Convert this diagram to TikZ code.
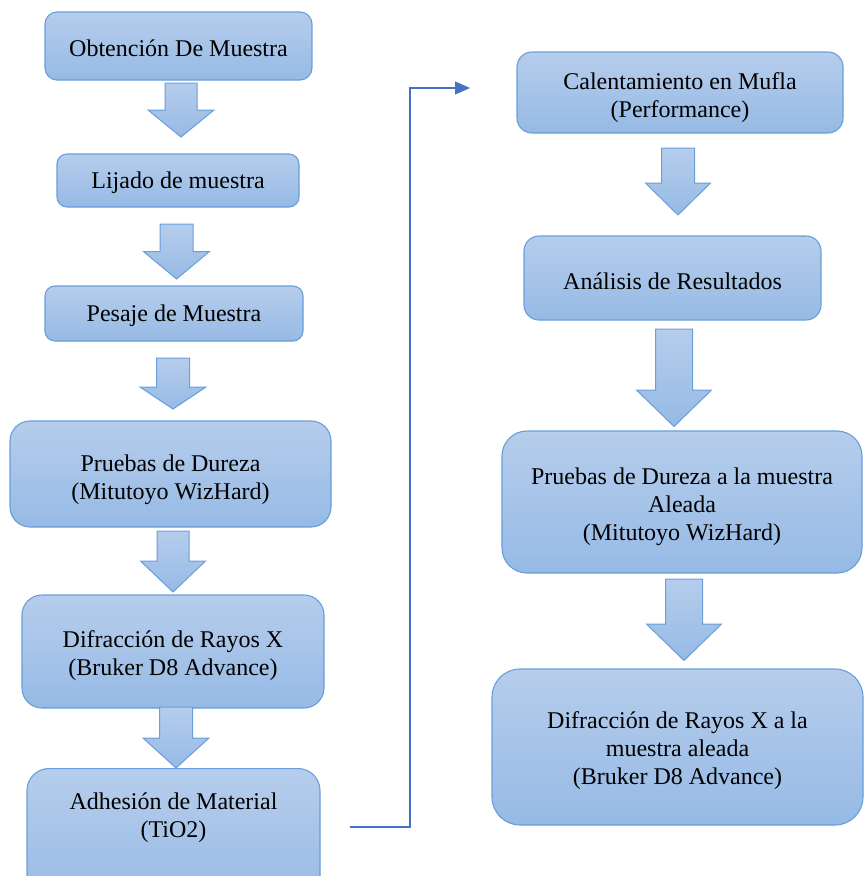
\documentclass[tikz,border=0pt]{standalone}
\usepackage{fontspec}
\setmainfont{Liberation Serif}
\usetikzlibrary{arrows.meta}
\definecolor{fillTop}{RGB}{182,205,236}
\definecolor{fillBot}{RGB}{150,186,229}
\definecolor{edgeBlue}{RGB}{104,158,218}
\definecolor{connBlue}{RGB}{68,114,196}
\tikzset{
  stepbox/.style={draw=edgeBlue, line width=1.1pt, top color=fillTop, bottom color=fillBot,
    inner sep=0pt},
  blockarrow/.style={draw=edgeBlue, line width=1pt, top color=fillTop, bottom color=fillBot, line join=miter},
  conn/.style={draw=connBlue, line width=1.2pt, -{Triangle[length=15pt,width=13pt]}},
  plain/.style={inner sep=0pt, align=center, font=\fontsize{24}{28}\selectfont}
}
\newcommand{\blkarrow}[6]{%
  \path[blockarrow] (#1-#5,-#2) -- (#1+#5,-#2) -- (#1+#5,-#3) -- (#1+#6,-#3) -- (#1,-#4) -- (#1-#6,-#3) -- (#1-#5,-#3) -- cycle;}
\begin{document}
\begin{tikzpicture}[x=1pt,y=1pt]
\useasboundingbox (0,0) rectangle (865,-876);
\clip (0,0) rectangle (865,-876);
% left column
\node[stepbox, minimum width=267pt, minimum height=68pt, rounded corners=12pt] (b1) at (178.5,-46) {};
\node[stepbox, minimum width=242pt, minimum height=53pt, rounded corners=10pt] (b2) at (178,-180.5) {};
\node[stepbox, minimum width=258pt, minimum height=55pt, rounded corners=10pt] (b3) at (174,-313.5) {};
\node[stepbox, minimum width=321pt, minimum height=106pt, rounded corners=20pt] (b4) at (170.5,-474) {};
\node[stepbox, minimum width=302pt, minimum height=113pt, rounded corners=20pt] (b5) at (173,-651.5) {};
\node[stepbox, minimum width=293pt, minimum height=140pt, rounded corners=22pt, anchor=north] (b6) at (173.5,-768) {};
% right column
\node[stepbox, minimum width=326pt, minimum height=81pt, rounded corners=15pt] (b7) at (680,-92.5) {};
\node[stepbox, minimum width=297pt, minimum height=84pt, rounded corners=15pt] (b8) at (672.5,-278) {};
\node[stepbox, minimum width=360pt, minimum height=142pt, rounded corners=25pt] (b9) at (682,-502) {};
\node[stepbox, minimum width=371pt, minimum height=156pt, rounded corners=28pt] (b10) at (677.5,-747) {};
% texts
\node[plain] (t1) at (178.5,-48.5) {Obtención De Muestra};
\node[plain] (t2) at (178,-183) {Lijado de muestra};
\node[plain] (t3) at (174,-316) {Pesaje de Muestra};
\node[plain] (t4) at (170.5,-479.5) {Pruebas de Dureza\\(Mitutoyo WizHard)};
\node[plain] (t5) at (173,-656) {Difracción de Rayos X\\(Bruker D8 Advance)};
\node[plain] (t6) at (173.5,-818) {Adhesión de Material\\(TiO2)};
\node[plain] (t7) at (680,-97.5) {Calentamiento en Mufla\\(Performance)};
\node[plain] (t8) at (672.5,-281) {Análisis de Resultados};
\node[plain] (t9) at (682,-506.5) {Pruebas de Dureza a la muestra\\Aleada\\(Mitutoyo WizHard)};
\node[plain] (t10) at (677.5,-751) {Difracción de Rayos X a la\\muestra aleada\\(Bruker D8 Advance)};
% block arrows
\blkarrow{181}{83}{110}{137}{16}{33}
\blkarrow{176.5}{224}{251.5}{279}{16.5}{33}
\blkarrow{173}{358}{387}{409}{16.5}{33}
\blkarrow{173}{531}{561}{592}{16}{32.5}
\blkarrow{176}{707}{738}{768}{16.5}{33}
\blkarrow{678}{148}{183}{215}{16.5}{32.5}
\blkarrow{674}{329}{390}{426.5}{18.5}{37.5}
\blkarrow{684}{579}{624}{660.5}{18.5}{37.5}
% connector
\coordinate (c0) at (350,-827);
\coordinate (c1) at (410,-827);
\coordinate (c2) at (470,-88);
\draw[conn] (c0) -- (c1) |- (c2);
\end{tikzpicture}
\end{document}
